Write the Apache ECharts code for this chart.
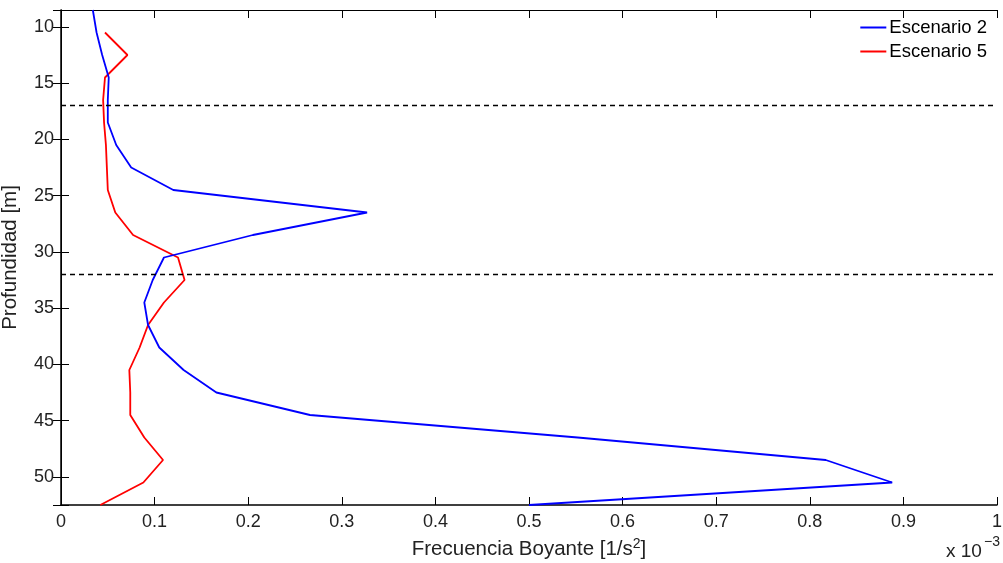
<!DOCTYPE html>
<html>
<head>
<meta charset="utf-8">
<script src="https://cdn.jsdelivr.net/npm/echarts@6/dist/echarts.min.js"></script>
<style>
  html, body { margin: 0; padding: 0; background: #fff; }
  #main { width: 1003px; height: 563px; }
</style>
</head>
<body>
<div id="main"></div>
<script>
// depths in m, frequency in units of 1e-3 1/s^2
var depthsE2 = [8.5, 10.5, 12.5, 14.5, 16.5, 18.5, 20.5, 22.5, 24.5, 26.5, 28.5, 30.5,
  32.5, 34.5, 36.5, 38.5, 40.5, 42.5, 44.5, 46.5, 48.5, 50.5, 52.5];
var escenario2 = [0.034, 0.038, 0.044, 0.051, 0.050, 0.050, 0.059, 0.075, 0.120, 0.327, 0.205, 0.110,
  0.098, 0.089, 0.093, 0.105, 0.131, 0.166, 0.266, 0.552, 0.817, 0.888, 0.500];

var depthsE5 = [10.5, 12.5, 14.5, 16.5, 18.5, 20.5, 22.5, 24.5, 26.5, 28.5, 30.5,
  32.5, 34.5, 36.5, 38.5, 40.5, 42.5, 44.5, 46.5, 48.5, 50.5, 52.5];
var escenario5 = [0.047, 0.071, 0.047, 0.045, 0.046, 0.048, 0.049, 0.050, 0.058, 0.077, 0.125,
  0.132, 0.110, 0.093, 0.084, 0.073, 0.074, 0.074, 0.089, 0.109, 0.088, 0.042];

var layerDepths = [17, 32];

var FONT = 'Liberation Sans, Arial, sans-serif';

function pairs(xs, ys) {
  var out = [];
  for (var i = 0; i < xs.length; i++) {
    out.push([xs[i], ys[i]]);
  }
  return out;
}

var chart = echarts.init(document.getElementById('main'));

var option = {
  backgroundColor: '#fff',
  animation: false,
  textStyle: { fontFamily: FONT },
  grid: { left: 61, right: 6, top: 10, bottom: 58, outerBoundsMode: 'none', containLabel: false },
  legend: {
    orient: 'vertical',
    right: 16,
    top: 18,
    padding: 0,
    itemWidth: 26,
    itemHeight: 18,
    itemGap: 5,
    itemStyle: { opacity: 0 },
    textStyle: { fontSize: 18.5, color: '#000', fontFamily: FONT, padding: [0, 0, 0, -2] },
    data: ['Escenario 2', 'Escenario 5']
  },
  xAxis: [{
    type: 'value',
    min: 0,
    max: 1,
    interval: 0.1,
    name: 'Frecuencia Boyante [1/s{sup|2}]',
    nameLocation: 'middle',
    nameGap: 32,
    nameTextStyle: {
      fontSize: 20.5, color: '#222', fontFamily: FONT,
      rich: { sup: { fontSize: 14, verticalAlign: 'bottom', padding: [0, 0, 11, 0], color: '#222' } }
    },
    axisLine: { lineStyle: { color: '#000', width: 1.5 } },
    axisTick: { inside: true, length: 8, lineStyle: { color: '#000' } },
    axisLabel: { fontSize: 18, color: '#222', margin: 8 },
    splitLine: { show: false }
  }, {
    type: 'value',
    position: 'top',
    min: 0,
    max: 1,
    interval: 0.1,
    axisLine: { lineStyle: { color: '#000', width: 1 } },
    axisTick: { inside: true, length: 8, lineStyle: { color: '#000' } },
    axisLabel: { show: false },
    splitLine: { show: false }
  }],
  yAxis: [{
    type: 'value',
    inverse: true,
    min: 8.5,
    max: 52.5,
    splitNumber: 9,
    minInterval: 5,
    maxInterval: 5,
    name: 'Profundidad [m]',
    nameLocation: 'middle',
    nameGap: 40,
    nameTextStyle: { fontSize: 20.5, color: '#222', fontFamily: FONT },
    axisLine: { lineStyle: { color: '#000', width: 1.5 } },
    axisTick: { inside: true, length: 8, lineStyle: { color: '#000' } },
    axisLabel: {
      fontSize: 18, color: '#222', margin: 7,
      formatter: function (v) { return v % 5 === 0 ? String(v) : ''; }
    },
    splitLine: { show: false }
  }, {
    type: 'value',
    position: 'right',
    inverse: true,
    min: 8.5,
    max: 52.5,
    splitNumber: 9,
    minInterval: 5,
    maxInterval: 5,
    axisLine: { lineStyle: { color: '#000', width: 1 } },
    axisTick: { inside: true, length: 8, lineStyle: { color: '#000' } },
    axisLabel: { show: false },
    splitLine: { show: false }
  }],
  graphic: [{
    type: 'text',
    left: 946,
    top: 542,
    style: { text: 'x 10', fontSize: 19, fontFamily: FONT, fill: '#222' }
  }, {
    type: 'text',
    left: 984,
    top: 535,
    style: { text: '−3', fontSize: 14, fontFamily: FONT, fill: '#222' }
  }],
  series: [{
    name: 'Escenario 2',
    type: 'line',
    symbol: 'none',
    color: '#0000ff',
    lineStyle: { width: 1.8, color: '#0000ff' },
    data: pairs(escenario2, depthsE2),
    markLine: {
      silent: true,
      symbol: ['none', 'none'],
      label: { show: false },
      lineStyle: { color: '#000', type: [5, 4], width: 1.4 },
      data: layerDepths.map(function (d) { return { yAxis: d }; })
    },
    z: 3
  }, {
    name: 'Escenario 5',
    type: 'line',
    symbol: 'none',
    color: '#ff0000',
    lineStyle: { width: 1.8, color: '#ff0000' },
    data: pairs(escenario5, depthsE5),
    z: 2
  }]
};

chart.setOption(option);
</script>
</body>
</html>
